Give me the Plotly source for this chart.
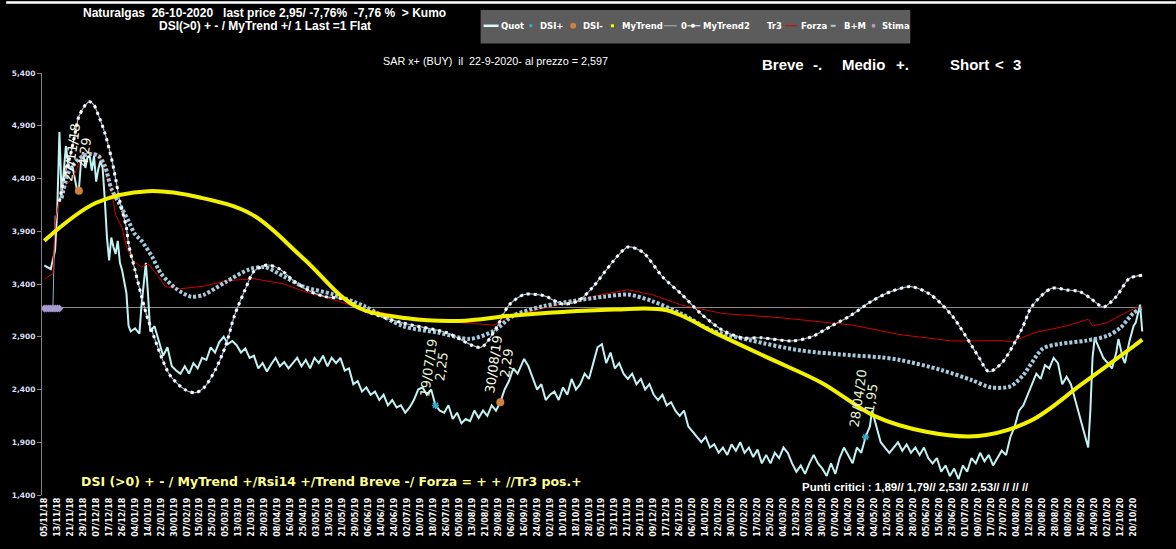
import plotly.graph_objects as go

# ---------------- data ----------------
date_labels = [
    "05/11/18", "13/11/18", "21/11/18", "29/11/18", "07/12/18", "17/12/18", "26/12/18",
    "04/01/19", "14/01/19", "22/01/19", "30/01/19", "07/02/19", "15/02/19", "25/02/19",
    "05/03/19", "13/03/19", "21/03/19", "29/03/19", "08/04/19", "16/04/19", "25/04/19",
    "03/05/19", "13/05/19", "21/05/19", "29/05/19", "06/06/19", "14/06/19", "24/06/19",
    "02/07/19", "10/07/19", "18/07/19", "26/07/19", "05/08/19", "13/08/19", "21/08/19",
    "29/08/19", "06/09/19", "16/09/19", "24/09/19", "02/10/19", "10/10/19", "18/10/19",
    "28/10/19", "05/11/19", "13/11/19", "21/11/19", "29/11/19", "09/12/19", "17/12/19",
    "26/12/19", "06/01/20", "14/01/20", "22/01/20", "30/01/20", "07/02/20", "17/02/20",
    "25/02/20", "04/03/20", "12/03/20", "20/03/20", "30/03/20", "07/04/20", "16/04/20",
    "24/04/20", "04/05/20", "12/05/20", "20/05/20", "28/05/20", "05/06/20", "15/06/20",
    "23/06/20", "01/07/20", "09/07/20", "17/07/20", "27/07/20", "04/08/20", "12/08/20",
    "20/08/20", "28/08/20", "08/09/20", "16/09/20", "24/09/20", "02/10/20", "12/10/20",
    "20/10/20",
]
label_step = 6  # trading days between two date labels

# (trading-day index, value)
quot = [
    (0, 3577), (3, 3540), (5, 3720), (6, 4100), (7, 4840), (8, 4243), (9, 4463), (10, 4708),
    (11, 4550), (12, 4491), (13, 4521), (14, 4420), (15, 4305), (16, 4290), (17, 4556),
    (18, 4650), (19, 4500), (20, 4600), (21, 4615), (22, 4475), (23, 4615), (24, 4370),
    (25, 4491), (26, 4568), (27, 4500), (28, 4200), (29, 3840), (30, 3623), (31, 3840),
    (32, 3750), (33, 3685), (34, 3809), (35, 3600), (36, 3530), (37, 3420), (38, 3313),
    (39, 3003), (40, 2950), (42, 2980), (44, 2930), (45, 3200), (47, 3600), (48, 3300),
    (49, 2950), (51, 3000), (53, 2850), (55, 2720), (57, 2800), (59, 2620), (61, 2580),
    (63, 2550), (65, 2620), (67, 2550), (69, 2650), (71, 2600), (73, 2700), (75, 2680),
    (77, 2800), (79, 2750), (81, 2850), (83, 2900), (85, 2830), (87, 2860), (89, 2820),
    (91, 2750), (93, 2790), (95, 2700), (97, 2720), (99, 2600), (101, 2650), (103, 2570),
    (105, 2640), (107, 2700), (109, 2620), (111, 2660), (113, 2600), (115, 2650), (117, 2700),
    (119, 2620), (121, 2680), (123, 2600), (125, 2700), (127, 2650), (129, 2720), (131, 2620),
    (133, 2700), (135, 2650), (137, 2700), (139, 2580), (141, 2600), (143, 2450), (145, 2480),
    (147, 2380), (149, 2420), (151, 2350), (153, 2380), (155, 2300), (157, 2350), (159, 2250),
    (161, 2300), (163, 2230), (165, 2250), (167, 2180), (169, 2230), (171, 2300), (173, 2400),
    (175, 2420), (177, 2350), (179, 2400), (181, 2250), (183, 2200), (185, 2180), (187, 2250),
    (189, 2120), (191, 2180), (193, 2080), (195, 2120), (197, 2100), (199, 2200), (201, 2130),
    (203, 2200), (205, 2150), (207, 2250), (209, 2200), (211, 2280), (213, 2400), (215, 2480),
    (217, 2600), (219, 2550), (222, 2690), (224, 2620), (226, 2500), (228, 2400), (230, 2450),
    (232, 2300), (234, 2350), (236, 2380), (238, 2300), (240, 2420), (242, 2350), (244, 2500),
    (246, 2400), (248, 2450), (250, 2550), (252, 2500), (254, 2650), (256, 2800), (258, 2830),
    (260, 2650), (262, 2750), (264, 2600), (266, 2650), (268, 2550), (270, 2500), (272, 2550),
    (274, 2450), (276, 2500), (278, 2400), (280, 2450), (282, 2350), (284, 2300), (286, 2350),
    (288, 2250), (290, 2280), (292, 2200), (294, 2150), (296, 2200), (298, 2050), (300, 2000),
    (302, 1950), (304, 1900), (306, 1950), (308, 1850), (310, 1880), (312, 1800), (314, 1850),
    (316, 1780), (318, 1880), (320, 1820), (322, 1900), (324, 1800), (326, 1850), (328, 1760),
    (330, 1830), (332, 1700), (334, 1780), (336, 1700), (338, 1800), (340, 1750), (342, 1850),
    (344, 1800), (346, 1700), (348, 1620), (350, 1680), (352, 1600), (354, 1700), (356, 1780),
    (358, 1700), (360, 1650), (362, 1580), (364, 1700), (366, 1600), (368, 1750), (370, 1850),
    (372, 1780), (374, 1700), (376, 1850), (378, 1800), (380, 1950), (382, 2050), (383, 2200),
    (385, 2050), (387, 1900), (389, 1850), (391, 1800), (393, 1850), (395, 1900), (397, 1820),
    (399, 1880), (401, 1800), (403, 1850), (405, 1780), (407, 1850), (409, 1750), (411, 1700),
    (413, 1750), (415, 1620), (417, 1680), (419, 1580), (421, 1650), (423, 1550), (425, 1680),
    (427, 1620), (429, 1750), (431, 1700), (433, 1800), (435, 1720), (437, 1780), (439, 1680),
    (441, 1750), (443, 1820), (445, 1780), (447, 1950), (449, 2050), (451, 2200), (453, 2250),
    (455, 2350), (457, 2450), (459, 2550), (461, 2500), (463, 2630), (465, 2600), (467, 2700),
    (469, 2650), (471, 2450), (473, 2520), (475, 2450), (477, 2300), (479, 2150), (481, 2000),
    (483, 1850), (484, 2200), (485, 2700), (486, 2890), (488, 2800), (490, 2700), (492, 2650),
    (494, 2600), (496, 2750), (497, 2880), (499, 2700), (500, 2650), (502, 2850), (504, 3003),
    (505, 3034), (507, 3204), (508, 2950),
]

mytrend = [
    (0, 3810), (24, 4170), (48, 4280), (72, 4220), (96, 4060), (120, 3640), (144, 3190),
    (168, 3075), (192, 3050), (216, 3100), (240, 3135), (264, 3158), (288, 3150), (312, 2920),
    (336, 2690), (360, 2460), (384, 2150), (408, 2000), (432, 1960), (456, 2100), (480, 2450),
    (504, 2810), (508, 2873),
]

mytrend2 = [
    (7, 4181), (9, 4398), (12, 4615), (14, 4801), (16, 4987), (19, 5096), (21, 5127),
    (23, 5096), (25, 5003), (28, 4832), (31, 4600), (33, 4398), (35, 4181), (38, 3933),
    (39, 3778), (42, 3530), (45, 3282), (48, 3065), (58, 2540), (65, 2400), (70, 2370),
    (74, 2420), (79, 2580), (84, 2820), (88, 3100), (93, 3350), (97, 3520), (103, 3580),
    (109, 3540), (116, 3420), (123, 3330), (130, 3280), (139, 3255), (148, 3150), (166, 3030),
    (186, 2940), (202, 2800), (209, 2980), (215, 3200), (222, 3300), (231, 3290), (240, 3210),
    (247, 3240), (254, 3375), (263, 3610), (270, 3750), (277, 3700), (286, 3470), (295, 3300),
    (304, 3115), (314, 2960), (323, 2890), (332, 2890), (346, 2860), (355, 2900), (364, 3000),
    (373, 3100), (383, 3240), (392, 3330), (401, 3375), (410, 3300), (420, 3100), (432, 2720),
    (437, 2570), (443, 2650), (452, 2960), (457, 3189), (466, 3359), (473, 3344), (479, 3328),
    (484, 3266), (490, 3182), (496, 3282), (502, 3452), (508, 3484),
]

bm = [
    (8, 4213), (12, 4491), (18, 4615), (22, 4631), (25, 4615), (28, 4521), (31, 4305),
    (35, 4150), (39, 3995), (42, 3870), (45, 3809), (50, 3654), (54, 3499), (61, 3355),
    (68, 3280), (74, 3300), (84, 3420), (95, 3540), (102, 3560), (111, 3470), (120, 3375),
    (134, 3300), (148, 3190), (166, 3000), (182, 2940), (197, 2880), (208, 2956), (217, 3100),
    (231, 3190), (245, 3240), (259, 3280), (270, 3300), (281, 3240), (295, 3115), (309, 2960),
    (327, 2865), (350, 2770), (373, 2725), (387, 2705), (396, 2680), (415, 2585), (429, 2490),
    (438, 2420), (447, 2430), (453, 2538), (462, 2788), (470, 2832), (482, 2863), (492, 2910),
    (498, 2987), (504, 3126), (508, 3173),
]

forza = [
    (0, 3443), (4, 3499), (5, 3964), (7, 4212), (10, 4336), (13, 4398), (18, 4631),
    (21, 4646), (25, 4631), (27, 4553), (29, 4414), (31, 4305), (33, 4057), (36, 3933),
    (38, 3747), (41, 3623), (45, 3561), (48, 3592), (53, 3468), (56, 3375), (63, 3355),
    (74, 3380), (84, 3430), (97, 3450), (111, 3400), (120, 3330), (134, 3250), (148, 3160),
    (166, 3090), (189, 3040), (208, 3010), (217, 3100), (235, 3190), (258, 3300), (270, 3345),
    (281, 3300), (295, 3200), (314, 3120), (341, 3080), (374, 3010), (396, 2920), (420, 2860),
    (442, 2863), (448, 2854), (458, 2938), (473, 3003), (483, 3065), (485, 3003), (492, 3034),
    (499, 3115), (505, 3173), (508, 3182),
]

zero_line = [(0, 3177), (508, 3177)]
tr3 = [(0, 3177), (4, 3177), (5, 4050)]
stima = [(0, 3168), (1, 3168), (2, 3168), (3, 3168), (4, 3168), (5, 3168), (6, 3168), (7, 3168)]

dsi_minus = [(16, 4284, "27/11/18", "4,29"), (211, 2280, "30/08/19", "2,29")]
dsi_plus = [(181, 2249, "19/07/19", "2,25"), (380, 1950, "28/04/20", "1,95")]

y_ticks = [1400, 1900, 2400, 2900, 3400, 3900, 4400, 4900, 5400]

title_1 = "Naturalgas  26-10-2020   last price 2,95/ -7,76%  -7,76 %  > Kumo"
title_2 = "DSI(>0) + - / MyTrend +/ 1 Last =1 Flat"
sar_text = "SAR x+ (BUY)  il  22-9-2020- al prezzo = 2,597"
trend_tokens = ["Breve", "-.", "Medio", "+.", "Short", "<", "3"]
bottom_text = "DSI (>0) + - / MyTrend +/Rsi14 +/Trend Breve -/ Forza = + + //Tr3 pos.+"
punti_text = "Punti critici : 1,89// 1,79// 2,53// 2,53// // // //"
legend_items = ["Quot", "DSI+", "DSI-", "MyTrend", "0", "MyTrend2", "Tr3", "Forza", "B+M", "Stima"]


def split(pairs):
    return [p[0] for p in pairs], [p[1] for p in pairs]


# ---------------- geometry helpers (pixel -> paper) ----------------
W, H = 1176, 549
ML, MR, MT, MB = 36, 26, 73, 47
PW, PH = W - ML - MR, H - MT - MB


def PX(x):
    return (x - ML) / PW


def PY(y):
    return (H - MB - y) / PH


def nb(s):
    return s.replace("  ", "\u00a0\u00a0").replace("\u00a0 ", "\u00a0\u00a0")


fig = go.Figure()

zx, zy = split(zero_line)
fig.add_trace(go.Scatter(x=zx, y=zy, mode="lines", line=dict(color="#8e8e8e", width=1)))
tx, ty = split(tr3)
fig.add_trace(go.Scatter(x=tx, y=ty, mode="lines", line=dict(color="#8fb4bc", width=1)))

qx, qy = split(quot)
fig.add_trace(go.Scatter(x=qx, y=qy, mode="lines", line=dict(color="#c2f2f2", width=2)))

fx, fy = split(forza)
fig.add_trace(go.Scatter(x=fx, y=fy, mode="lines", line=dict(color="#d40000", width=1)))

bx, by = split(bm)
fig.add_trace(go.Scatter(x=bx, y=by, mode="lines",
                         line=dict(color="#a6cadb", width=4, dash="3px,2px", shape="spline", smoothing=0.8)))

m2x, m2y = split(mytrend2)
fig.add_trace(go.Scatter(x=m2x, y=m2y, mode="lines",
                         line=dict(color="#9fb8cc", width=1.2, shape="spline", smoothing=0.8)))
fig.add_trace(go.Scatter(x=m2x, y=m2y, mode="lines",
                         line=dict(color="#ffffff", width=3, dash="3px,4px", shape="spline", smoothing=0.8)))

mx, my = split(mytrend)
fig.add_trace(go.Scatter(x=mx, y=my, mode="lines",
                         line=dict(color="#f2f200", width=4, shape="spline", smoothing=1)))

sx, sy = split(stima)
fig.add_trace(go.Scatter(x=sx, y=sy, mode="markers",
                         marker=dict(symbol="diamond", size=6, color="#a99bcf")))

fig.add_trace(go.Scatter(x=[d[0] for d in dsi_minus], y=[d[1] for d in dsi_minus], mode="markers",
                         marker=dict(symbol="circle", size=8, color="#d0823a")))
fig.add_trace(go.Scatter(x=[d[0] for d in dsi_plus], y=[d[1] for d in dsi_plus], mode="markers",
                         marker=dict(symbol="asterisk-open", size=6, color="#3aa8c8",
                                     line=dict(color="#3aa8c8", width=1.5))))

annotations = []
for (i, v, dt, val), col in [(d, "#fbfbe6") for d in dsi_minus] + [(d, "#e4f4d4") for d in dsi_plus]:
    annotations.append(dict(x=i, y=v, xref="x", yref="y", text=dt, showarrow=False,
                            textangle=-82, xshift=-7, yshift=38,
                            font=dict(family="DejaVu Sans", size=13, color=col)))
    annotations.append(dict(x=i, y=v, xref="x", yref="y", text=val, showarrow=False,
                            textangle=-82, xshift=6, yshift=39,
                            font=dict(family="DejaVu Sans", size=13, color=col)))


def txt(x, y, s, size, color="#ffffff", family="Liberation Sans", bold=True, xanchor="center"):
    t = nb(s)
    if bold:
        t = "<b>" + t + "</b>"
    annotations.append(dict(x=PX(x), y=PY(y), xref="paper", yref="paper", text=t, showarrow=False,
                            xanchor=xanchor, yanchor="middle",
                            font=dict(family=family, size=size, color=color)))


txt(260, 12, title_1, 12)
txt(260, 25, title_2, 12)
txt(492, 61, sar_text, 10.8, family="Liberation Sans", bold=False)
for tok, tx_ in zip(trend_tokens, [758, 809, 838, 893, 947, 992, 1010]):
    txt(tx_, 64, tok, 15, xanchor="left")
txt(73, 488, bottom_text, 12.5, color="#ffff8a", family="DejaVu Sans", xanchor="left")
txt(798, 494, punti_text, 11.5, xanchor="left")

shapes = []
# thin white strip at the very top of the image
shapes.append(dict(type="rect", xref="paper", yref="paper", x0=PX(0), x1=PX(W), y0=PY(2.5), y1=PY(0),
                   fillcolor="#ffffff", line=dict(width=0), layer="above"))
# legend box
shapes.append(dict(type="rect", xref="paper", yref="paper", x0=PX(477), x1=PX(909), y0=PY(43), y1=PY(9),
                   fillcolor="#5c5c5c", line=dict(width=0), layer="above"))
LY = 25
legend_text_x = [495, 535, 578, 617, 676, 699, 763, 797, 840, 879]
for name, lx in zip(legend_items, legend_text_x):
    annotations.append(dict(x=PX(lx), y=PY(LY), xref="paper", yref="paper", text="<b>" + name + "</b>",
                            showarrow=False, xanchor="left", yanchor="middle",
                            font=dict(family="DejaVu Sans", size=8.5, color="#ffffff")))


def seg(x0, x1, color, width):
    shapes.append(dict(type="line", xref="paper", yref="paper", x0=PX(x0), x1=PX(x1), y0=PY(LY), y1=PY(LY),
                       line=dict(color=color, width=width), layer="above"))


def dot(xc, r, color, kind="rect"):
    shapes.append(dict(type=kind, xref="paper", yref="paper", x0=PX(xc - r), x1=PX(xc + r),
                       y0=PY(LY + r), y1=PY(LY - r), fillcolor=color, line=dict(width=0), layer="above"))


seg(480, 495, "#dffafa", 2.5)
dot(527.5, 1.5, "#3fb0c4")
dot(570, 3, "#d0823a", "circle")
dot(609.5, 1.5, "#ffff00")
seg(661, 674, "#b0b0b0", 1)
seg(685, 698, "#ffffff", 1)
dot(690.5, 2, "#ffffff", "circle")
seg(783, 795, "#e00000", 1)
shapes.append(dict(type="rect", xref="paper", yref="paper", x0=PX(829), x1=PX(834), y0=PY(LY + 1), y1=PY(LY - 1),
                   fillcolor="#a6d0e0", line=dict(width=0), layer="above"))
dot(872, 2, "#a99bcf", "circle")

fig.update_layout(
    width=W, height=H,
    margin=dict(l=ML, r=MR, t=MT, b=MB, pad=0),
    paper_bgcolor="#000000", plot_bgcolor="#000000",
    showlegend=False,
    annotations=annotations,
    shapes=shapes,
    xaxis=dict(
        range=[(ML - 38.3) / 2.173, (W - MR - 38.3) / 2.173],
        tickmode="array",
        tickvals=[k * label_step for k in range(len(date_labels))],
        ticktext=["<b>" + s + "</b>" for s in date_labels],
        tickangle=-90,
        tickfont=dict(family="DejaVu Sans", size=8, color="#f6f6f6"),
        showgrid=False, zeroline=False, showline=False, ticks="",
    ),
    yaxis=dict(
        range=[1400, 5400],
        tickmode="array",
        tickvals=y_ticks,
        ticktext=["<b>" + f"{v:,}" + "</b>" for v in y_ticks],
        tickfont=dict(family="DejaVu Sans", size=7.5, color="#dcdcf4"),
        showgrid=False, zeroline=False, showline=True, linecolor="#8a7f8a", linewidth=1,
        ticks="outside", ticklen=4, tickcolor="#8a7f8a",
    ),
)

fig.write_html("out.html", config={"displayModeBar": False},
               post_script="document.body.style.margin='0';document.body.style.overflow='hidden';")
